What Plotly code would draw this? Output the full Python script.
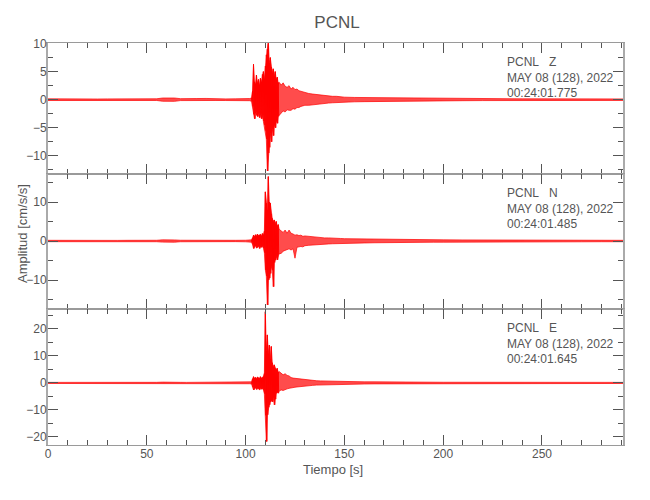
import plotly.graph_objects as go
from plotly.subplots import make_subplots

# ---------------- data ----------------
station = "PCNL"
components = ["Z", "N", "E"]
start_times = ["00:24:01.775", "00:24:01.485", "00:24:01.645"]
date_label = "MAY 08 (128), 2022"

# sample times [s] of the min/max envelope
t_s = [0, 5, 10, 15, 20, 25, 30, 35, 40, 45, 50, 55, 58, 61, 64, 67, 70, 75, 80, 85, 90, 95, 100, 102,
       103, 103.5, 104, 104.5, 105, 105.5, 106, 106.5, 107, 107.5, 108, 108.5, 109, 109.5, 110, 110.5,
       111, 111.5, 112, 112.5, 113, 113.5, 114, 114.5, 115, 115.5, 116, 116.5, 117,
       118, 119, 120, 121, 122, 123, 124, 125, 126, 127, 128, 129, 130,
       132, 134, 136, 138, 140, 142, 144, 146, 148, 150,
       155, 160, 165, 170, 175, 180, 185, 190, 195, 200,
       210, 220, 230, 240, 250, 260, 270, 280, 290, 291]

z_hi = [.15, .12, .14, .13, .15, .12, .14, .13, .15, .12, .14, .16, .3, .35, .3, .18, .15, .2, .22, .15, .14, .15, .16, .2,
        0.3, 1.5, 6.3, 3.2, 2.8, 4.4, 3.0, 3.6, 2.6, 3.8, 3.2, 4.5, 5.0, 3.8, 6.0, 8.0,
        9.0, 10.5, 6.6, 7.5, 5.8, 4.8, 5.5, 4.2, 5.0, 3.6, 4.0, 3.0, 3.1,
        2.6, 3.0, 2.4, 2.2, 2.5, 1.9, 2.2, 1.8, 1.9, 1.6, 1.5, 1.4, 1.2,
        1.1, 1.0, 0.9, 0.8, 0.75, 0.7, 0.6, 0.6, 0.5, 0.45,
        0.4, 0.38, 0.35, 0.32, 0.3, 0.28, 0.26, 0.24, 0.22, 0.2,
        0.18, 0.18, 0.16, 0.15, 0.15, 0.14, 0.15, 0.14, 0.13, 0.13]
z_lo = [-.15, -.14, -.12, -.15, -.13, -.12, -.14, -.12, -.14, -.13, -.15, -.14, -.28, -.32, -.3, -.16, -.14, -.18, -.2, -.14, -.15, -.13, -.16, -.18,
        -0.3, -1.2, -2.6, -3.4, -2.2, -2.8, -3.0, -2.4, -3.2, -2.5, -3.4, -2.8, -3.8, -4.5, -5.5, -7.0,
        -12.7, -9.5, -8.5, -6.0, -7.5, -5.2, -6.4, -4.5, -5.0, -3.8, -4.2, -3.0, -2.8,
        -2.3, -2.0, -2.2, -1.8, -1.9, -1.9, -1.6, -1.7, -1.4, -1.4, -1.2, -1.1, -1.0,
        -1.0, -0.9, -0.8, -0.7, -0.7, -0.6, -0.55, -0.5, -0.45, -0.4,
        -0.38, -0.35, -0.32, -0.3, -0.28, -0.26, -0.24, -0.22, -0.2, -0.2,
        -0.18, -0.16, -0.16, -0.15, -0.14, -0.15, -0.14, -0.13, -0.14, -0.13]

n_hi = [.18, .15, .17, .16, .18, .15, .17, .16, .18, .15, .17, .19, .3, .35, .28, .2, .18, .2, .22, .18, .17, .18, .2, .25,
        0.3, 0.8, 1.5, 1.2, 1.6, 1.3, 1.8, 1.4, 1.5, 1.7, 1.3, 1.9, 1.6, 2.5, 12.6, 9.7,
        8.0, 16.5, 10.0, 9.7, 7.0, 5.8, 5.0, 5.4, 4.5, 5.0, 3.8, 4.2, 3.0,
        2.5, 2.2, 2.8, 2.0, 2.8, 2.0, 1.8, 1.5, 1.6, 1.4, 1.5, 1.2, 1.3,
        1.2, 1.0, 0.9, 0.85, 0.8, 0.8, 0.7, 0.7, 0.65, 0.6,
        0.55, 0.5, 0.45, 0.45, 0.4, 0.4, 0.35, 0.35, 0.3, 0.3,
        0.28, 0.25, 0.25, 0.22, 0.22, 0.2, 0.2, 0.2, 0.18, 0.18]
n_lo = [-.17, -.16, -.15, -.18, -.16, -.17, -.15, -.17, -.16, -.18, -.16, -.18, -.28, -.32, -.3, -.19, -.17, -.19, -.2, -.17, -.18, -.16, -.2, -.24,
        -0.3, -0.9, -1.9, -1.4, -1.2, -1.8, -1.5, -1.3, -1.9, -1.4, -1.6, -1.2, -1.8, -3.0, -7.4, -9.0,
        -16.4, -10.0, -9.5, -8.3, -6.5, -7.5, -11.7, -5.5, -4.9, -4.0, -4.8, -3.5, -3.2,
        -3.2, -2.6, -2.4, -2.2, -2.0, -2.3, -2.0, -4.4, -1.6, -1.5, -1.4, -1.5, -1.2,
        -1.1, -1.0, -0.9, -0.8, -0.8, -0.75, -0.7, -0.65, -0.6, -0.6,
        -0.5, -0.5, -0.45, -0.4, -0.4, -0.35, -0.35, -0.3, -0.3, -0.3,
        -0.26, -0.25, -0.22, -0.22, -0.2, -0.2, -0.2, -0.18, -0.18, -0.18]

e_hi = [.2, .18, .2, .19, .2, .18, .2, .19, .2, .18, .2, .22, .3, .35, .3, .22, .2, .22, .24, .2, .2, .2, .22, .3,
        0.4, 1.5, 2.3, 1.8, 2.0, 1.6, 2.2, 1.9, 1.7, 2.3, 1.8, 2.0, 2.4, 3.5, 26.4, 12.0,
        17.8, 11.0, 14.0, 9.0, 13.5, 7.5, 6.0, 6.7, 5.4, 4.8, 5.4, 4.0, 4.2,
        3.6, 3.0, 3.4, 2.8, 2.6, 2.0, 1.8, 1.7, 1.6, 1.5, 1.4, 1.3, 1.2,
        1.0, 0.9, 0.8, 0.75, 0.7, 0.65, 0.6, 0.55, 0.5, 0.5,
        0.45, 0.4, 0.4, 0.35, 0.35, 0.3, 0.3, 0.3, 0.28, 0.25,
        0.25, 0.22, 0.22, 0.2, 0.2, 0.2, 0.2, 0.2, 0.2, 0.2]
e_lo = [-.2, -.19, -.18, -.2, -.19, -.2, -.18, -.2, -.19, -.2, -.18, -.22, -.3, -.34, -.3, -.2, -.2, -.22, -.22, -.2, -.2, -.19, -.22, -.3,
        -0.4, -1.5, -2.6, -2.0, -1.8, -2.4, -1.9, -2.2, -2.5, -1.8, -2.3, -2.0, -2.6, -4.0, -12.0, -21.7,
        -11.8, -9.0, -8.1, -7.0, -6.5, -7.0, -5.5, -8.1, -6.0, -3.8, -3.5, -3.8, -3.0,
        -2.6, -2.8, -2.4, -2.2, -2.0, -1.8, -1.7, -1.6, -1.5, -1.4, -1.3, -1.2, -1.1,
        -1.0, -0.9, -0.8, -0.75, -0.7, -0.6, -0.6, -0.55, -0.5, -0.45,
        -0.45, -0.4, -0.35, -0.35, -0.3, -0.3, -0.3, -0.28, -0.25, -0.25,
        -0.22, -0.22, -0.2, -0.2, -0.2, -0.2, -0.2, -0.2, -0.2, -0.2]

y_ranges = [[-13.3, 10.05], [-17.5, 17.1], [-22.9, 27.3]]
y_dticks = [5, 10, 10]
y_minor = [2.5, 5, 5]
x_range = [0, 291]

# ---------------- figure ----------------
W, H = 650, 500
OFF = 8  # page body margin
ML, MR, MT, MB = 40, 35, 35, 63
TEXT = "#555555"
FONT = "Liberation Sans, Arial, sans-serif"


def paper_y(py):
    return (H - MB - (py - OFF)) / (H - MT - MB)


def paper_x(px):
    return (px - OFF - ML) / (W - ML - MR)


fig = make_subplots(rows=3, cols=1, shared_xaxes=True, vertical_spacing=0)

his = [z_hi, n_hi, e_hi]
los = [z_lo, n_lo, e_lo]
n = len(t_s)
for k in range(3):
    # min/max envelope band
    fig.add_trace(go.Scatter(x=t_s, y=his[k], mode="lines",
                             line=dict(color="#ff0000", width=0.7),
                             hoverinfo="skip", showlegend=False), row=k + 1, col=1)
    fig.add_trace(go.Scatter(x=t_s, y=los[k], mode="lines", fill="tonexty",
                             fillcolor="rgba(255,0,0,0.7)",
                             line=dict(color="#ff0000", width=0.7),
                             hoverinfo="skip", showlegend=False), row=k + 1, col=1)
    # where samples are dense, draw the trace alternately through max and min
    xs, ys = [], []
    for i in range(n - 1):
        if t_s[i + 1] - t_s[i] <= 0.5:
            xs += [t_s[i], (t_s[i] + t_s[i + 1]) / 2]
            ys += [his[k][i], los[k][i]]
    fig.add_trace(go.Scatter(x=xs, y=ys, mode="lines",
                             line=dict(color="#ff0000", width=1),
                             hoverinfo="skip", showlegend=False), row=k + 1, col=1)

bounds_px = [(43.3, 174.3), (174.3, 309.3), (309.3, 444.7)]
for k in range(3):
    top, bot = bounds_px[k]
    yname = "yaxis" if k == 0 else f"yaxis{k + 1}"
    xname = "xaxis" if k == 0 else f"xaxis{k + 1}"
    fig.layout[yname].update(
        domain=[paper_y(bot), paper_y(top)], range=y_ranges[k], dtick=y_dticks[k], tick0=0,
        showgrid=False, zeroline=False, showline=True, linecolor="#aaaaaa", linewidth=2,
        mirror="allticks", ticks="inside", ticklen=10, tickwidth=1, tickcolor="#555555",
        minor=dict(ticks="inside", ticklen=5, dtick=y_minor[k], tick0=0, tickcolor="#555555", showgrid=False),
        tickfont=dict(family=FONT, size=12, color=TEXT), automargin=False, ticklabelstandoff=-3)
    fig.layout[xname].update(
        range=x_range, dtick=50, tick0=0, showgrid=False, zeroline=False, showline=True,
        linecolor="#9a9a9a", linewidth=1, mirror="allticks", ticks="inside", ticklen=10,
        tickwidth=1, tickcolor="#555555",
        minor=dict(ticks="inside", ticklen=5, dtick=10, tick0=0, tickcolor="#555555", showgrid=False),
        tickfont=dict(family=FONT, size=12, color=TEXT), automargin=False,
        showticklabels=(k == 2), ticklabelstandoff=-2)

    lines = [f"{station}\u00a0\u00a0\u00a0{components[k]}", date_label, start_times[k]]
    for j, txt in enumerate(lines):
        fig.add_annotation(text=txt, xref="paper", yref="paper",
                           x=paper_x(505), y=paper_y(top + 19 + 15.5 * j),
                           xanchor="left", yanchor="middle", showarrow=False,
                           font=dict(family=FONT, size=12, color=TEXT))

fig.add_annotation(text="Tiempo [s]", xref="paper", yref="paper",
                   x=paper_x(333), y=paper_y(469), showarrow=False,
                   xanchor="center", yanchor="middle",
                   font=dict(family=FONT, size=13, color=TEXT))

fig.add_annotation(text="Amplitud [cm/s/s]", xref="paper", yref="paper",
                   x=paper_x(22), y=paper_y(234), textangle=-90, showarrow=False,
                   xanchor="center", yanchor="middle",
                   font=dict(family=FONT, size=13, color=TEXT))

fig.update_layout(
    width=W, height=H, margin=dict(l=ML, r=MR, t=MT, b=MB),
    paper_bgcolor="white", plot_bgcolor="white",
    title=dict(text=station, x=paper_x(337), xref="paper", xanchor="center",
               y=1 - (22 - OFF) / H, yref="container", yanchor="middle",
               font=dict(family=FONT, size=17, color=TEXT)),
)

fig.write_html("out.html")
